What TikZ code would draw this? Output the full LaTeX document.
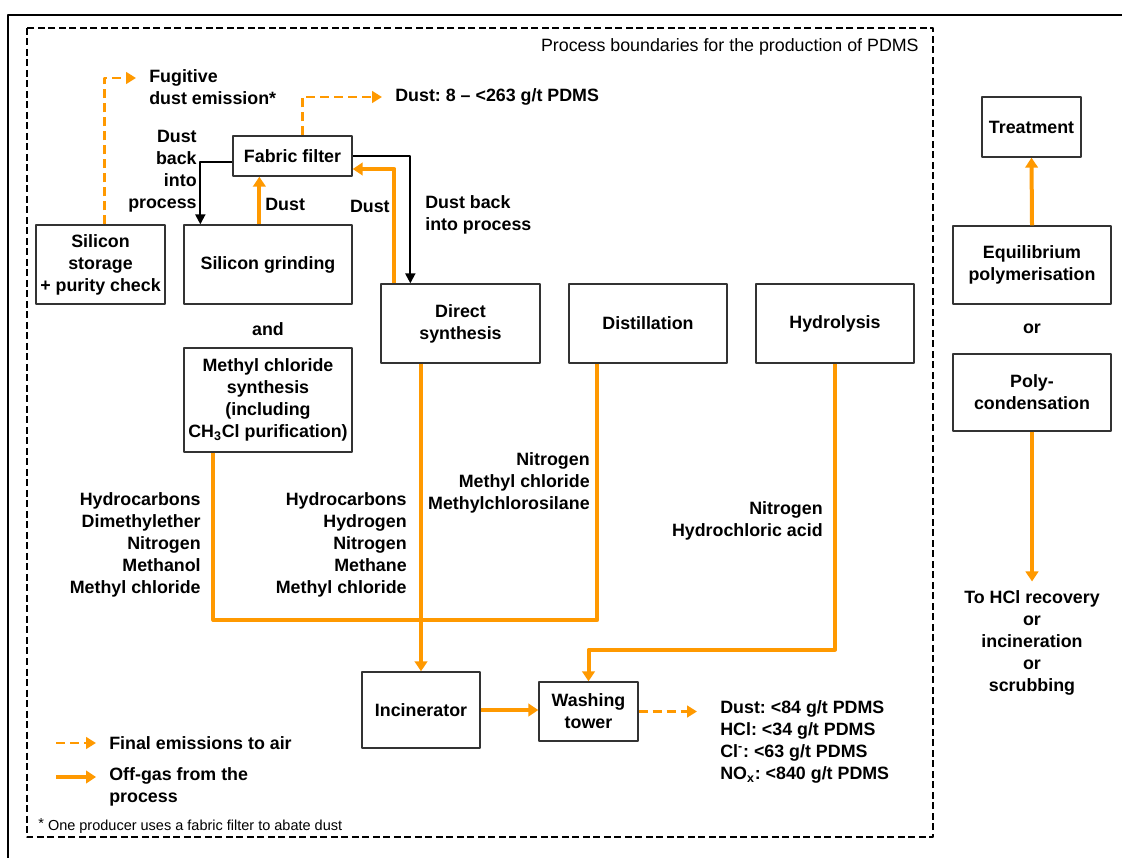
\documentclass[tikz,border=0pt]{standalone}
\usepackage{fontspec}
\setmainfont{Liberation Sans}
\usetikzlibrary{arrows.meta,calc}
\definecolor{offgas}{RGB}{255,153,0}
\frenchspacing

\begin{document}
\begin{tikzpicture}[x=0.6pt,y=-0.6pt,>={Triangle[width=6pt,length=6pt]},
	font=\fontsize{10.7}{13.2}\selectfont\bfseries, line join=round,
	box/.style={draw=black!80,line width=0.8pt,align=center,inner sep=2pt},
	lbl/.style={inner sep=0pt},
	gas/.style={draw=offgas,line width=2.4pt,-{Triangle[width=7.5pt,length=6pt]}},
	emis/.style={draw=offgas,line width=1.6pt,dash pattern=on 5.4pt off 3pt,-{Triangle[width=7pt,length=6pt]}},
	back/.style={draw=black,line width=1.2pt,->}]
	\useasboundingbox (0,0) rectangle (1122,858);
	\draw[line width=1.2pt] (8,858) |- (1122,15);
	\draw[line width=0.9pt,dash pattern=on 4.2pt off 2.1pt] (27,28) rectangle (933,837);
	\node[lbl,anchor=east,font=\fontsize{10.7}{13}\selectfont] (bound) at (919,47) {Process boundaries for the production of PDMS};
	% boxes
	\node[box,minimum width=77.4pt,minimum height=47.4pt] (store) at (100.5,264.5) {Silicon\\storage\\+ purity check};
	\node[box,minimum width=100.8pt,minimum height=47.4pt] (grind) at (268,264.5) {Silicon grinding};
	\node[box,minimum width=71.4pt,minimum height=24pt] (fabric) at (292.5,156) {Fabric filter};
	\node[box,minimum width=100.8pt,minimum height=62.4pt] (methyl) at (268,400) {Methyl chloride\\synthesis\\(including\\CH\textsubscript{3}Cl purification)};
	\node[box,minimum width=95.4pt,minimum height=47.4pt] (direct) at (460.5,323.5) {Direct\\synthesis};
	\node[box,minimum width=94.8pt,minimum height=47.4pt] (distill) at (648,323.5) {Distillation};
	\node[box,minimum width=94.8pt,minimum height=47.4pt] (hydro) at (835,323.5) {Hydrolysis};
	\node[box,minimum width=70.8pt,minimum height=45.6pt] (incin) at (421,710) {Incinerator};
	\node[box,minimum width=59.4pt,minimum height=35.4pt] (wash) at (588.5,711.5) {Washing\\tower};
	\node[box,minimum width=59.4pt,minimum height=36pt] (treat) at (1031.5,127) {Treatment};
	\node[box,minimum width=94.8pt,minimum height=46.8pt] (equi) at (1032,265) {Equilibrium\\polymerisation};
	\node[box,minimum width=94.8pt,minimum height=46.2pt] (poly) at (1032,392.5) {Poly-\\condensation};
	\node[lbl] (and) at (268,329) {and};
	\node[lbl] (or) at (1032,329) {or};
	% dust
	\coordinate (fugtip) at (136,78);
	\node[lbl,anchor=west,align=left] (fug) at (149,87) {Fugitive\\dust emission*};
	\draw[emis] ($(store.north west)+(69,0)$) |- (fugtip);
	\node[lbl,anchor=west] (dustout) at (395,97) {Dust: 8 -- <263 g/t PDMS};
	\draw[emis] ($(fabric.north west)+(70,0)$) |- ([xshift=-7.8pt]dustout.west);
	\draw[back] ($(fabric.west)+(0,6)$) -| ($(grind.north west)+(17,0)$);
	\node[lbl,anchor=east,align=right] (backl) at (197,171) {Dust\\back\\into\\process};
	\draw[gas] ($(grind.north west)+(76,0)$) coordinate (g1) -- (g1 |- fabric.south);
	\node[lbl,anchor=west] (dustl) at (265,204) {Dust};
	\draw[back] (fabric.east) -| ($(direct.north west)+(30,0)$);
	\draw[gas] ($(direct.north west)+(14,0)$) |- ($(fabric.east)+(0,13)$);
	\node[lbl,anchor=east] (dustr) at (390,206) {Dust};
	\node[lbl,anchor=west,align=left] (backr) at (425,215) {Dust back\\into process};
	% off-gas
	\coordinate (jn) at (421,620);
	\draw[gas,-] ($(methyl.south west)+(30,0)$) |- (jn) -| ($(distill.south west)+(29,0)$);
	\draw[gas] (direct.south -| incin.north) -- (incin.north);
	\draw[gas] (hydro.south) -- ++(0,286) -| (wash.north);
	\draw[gas] (incin.east) -- (incin.east -| wash.west);
	\coordinate (airtip) at (697,711.5);
	\draw[emis] (wash.east) -- (airtip);
	\node[lbl,anchor=east,align=right] (gasm) at (201,545) {Hydrocarbons\\Dimethylether\\Nitrogen\\Methanol\\Methyl chloride};
	\node[lbl,anchor=east,align=right] (gasd) at (407,545) {Hydrocarbons\\Hydrogen\\Nitrogen\\Methane\\Methyl chloride};
	\node[lbl,anchor=east,align=right] (gass) at (590,483) {Nitrogen\\Methyl chloride\\Methylchlorosilane};
	\node[lbl,anchor=east,align=right] (gash) at (823,520.5) {Nitrogen\\Hydrochloric acid};
	\node[lbl,anchor=west,align=left] (emit) at (720,742) {Dust: <84 g/t PDMS\\HCl: <34 g/t PDMS\\Cl\textsuperscript{-}: <63 g/t PDMS\\NO\textsubscript{x}: <840 g/t PDMS};
	% right column
	\draw[gas] (equi.north) -- (treat.south);
	\node[lbl,align=center] (hcl) at (1032,642.5) {To HCl recovery\\or\\incineration\\or\\scrubbing};
	\draw[gas] (poly.south) -- ([yshift=5pt]hcl.north);
	% legend
	\coordinate (k1) at (56,743);
	\coordinate (k2) at (96,743);
	\coordinate (k3) at (56,777);
	\coordinate (k4) at (96,777);
	\draw[emis] (k1) -- (k2);
	\draw[gas] (k3) -- (k4);
	\node[lbl,anchor=west] (leg1) at (109,743) {Final emissions to air};
	\node[lbl,anchor=west,align=left] (leg2) at (109,787) {Off-gas from the\\process};
	\node[lbl,anchor=west,font=\fontsize{8.7}{10}\selectfont] (note) at (38,826) {\raisebox{1.5pt}{*} One producer uses a fabric filter to abate dust};
\end{tikzpicture}
\end{document}
